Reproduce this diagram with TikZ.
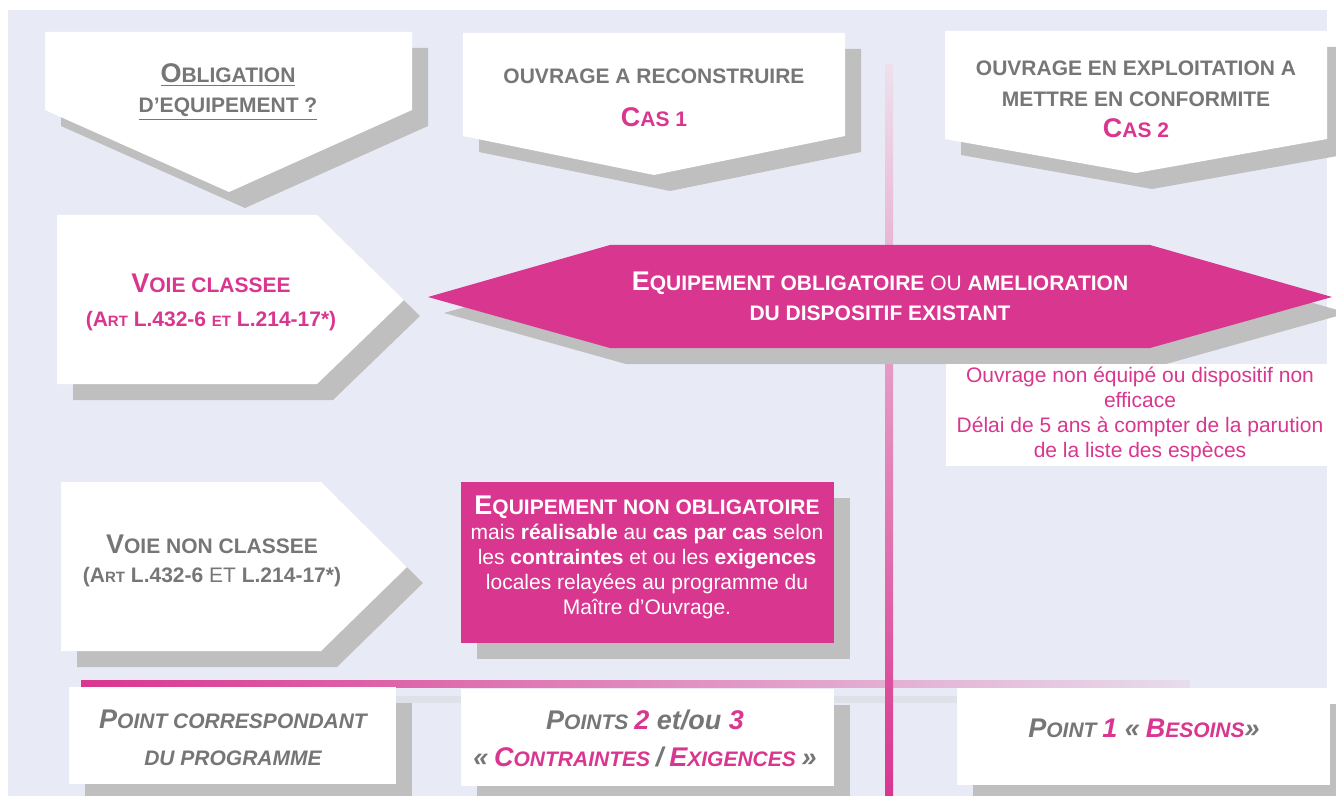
\documentclass[tikz,border=0pt]{standalone}
\usepackage{fontspec}
\setmainfont{Liberation Sans}

\definecolor{fond}{HTML}{E8EBF5}
\definecolor{ombre}{HTML}{BFBFBF}
\definecolor{ombreligne}{HTML}{DFE1E8}
\definecolor{rose}{HTML}{D9368F}
\definecolor{rosepale}{HTML}{EEE0EC}
\definecolor{gristexte}{HTML}{767676}

% grande et petite capitale
\newcommand\grande[1]{{\fontsize{13.5}{15}\selectfont #1}}
\newcommand\petite[1]{{\fontsize{7.5}{15}\selectfont #1}}

\begin{document}
\begin{tikzpicture}[x=0.5pt,y=-0.5pt,
    titre/.style={align=center, text=gristexte, font=\fontsize{10.5}{15.5}\selectfont\bfseries},
    note/.style={align=center, font=\fontsize{10.5}{12.5}\selectfont},
    bas/.style={align=center, text=gristexte, font=\fontsize{10.5}{18.5}\selectfont\bfseries\itshape}]

  \useasboundingbox (0,0) rectangle (1336,796);
  \clip (0,0) rectangle (1336,796);
  \fill[fond] (8,10) rectangle (1327,796);

  % lignes de separation
  \fill[ombreligne] (97,696) rectangle (1206,703);
  \shade[left color=rose, middle color=rose!45!fond, right color=fond!92!rose] (81,680) rectangle (1190,687);
  \shade[top color=rosepale, bottom color=rose] (885,65) rectangle (893,796);

  % ombres puis formes
  \foreach \d/\blanc/\plein in {16/ombre/ombre, 0/white/rose} {
    \begin{scope}[shift={(\d,\d)}]
      \fill[\blanc] (45,32) -- (412,32) -- (412,110) -- (229,192) -- (45,110) -- cycle;
      \fill[\blanc] (463,33) -- (845,33) -- (845,136) -- (654,175) -- (463,136) -- cycle;
      \fill[\blanc] (945,31) -- (1327,31) -- (1327,139) -- (1136,173) -- (945,139) -- cycle;
      \fill[\blanc] (57,215) -- (317,215) -- (404,300) -- (317,384) -- (57,384) -- cycle;
      \fill[\plein] (428,297) -- (610,245) -- (1150,245) -- (1332,297) -- (1150,348) -- (610,348) -- cycle;
      \fill[\blanc] (61,482) -- (321,482) -- (407,567) -- (321,651) -- (61,651) -- cycle;
      \fill[\plein] (461,482) rectangle (834,643);
      \fill[\blanc] (69,687) rectangle (396,784);
      \fill[\blanc] (461,689) rectangle (834,786);
      \fill[\blanc] (957,688) rectangle (1330,785);
    \end{scope}
  }
  \fill[white] (946,364) rectangle (1327,466);

  % textes du haut
  \node[titre, font=\fontsize{10.5}{15}\selectfont\bfseries] (oblig) at (228,92)
    {\underline{\grande{O}BLIGATION}\\\underline{D’EQUIPEMENT ?}};
  \node[titre] (reconst) at (654,76) {OUVRAGE A RECONSTRUIRE};
  \node[titre, text=rose] (cas1) at (654,117) {\grande{C}AS 1};
  \node[titre] (exploit) at (1136,84) {OUVRAGE EN EXPLOITATION A\\METTRE EN CONFORMITE};
  \node[titre, text=rose] (cas2) at (1136,128) {\grande{C}AS 2};

  % voies
  \node[titre, text=rose, font=\fontsize{10.5}{17}\selectfont\bfseries] (classee) at (211,302)
    {\grande{V}OIE CLASSEE\\(A\petite{RT} L.432-6 \petite{ET} L.214-17*)};
  \node[titre, text=white, font=\fontsize{10.5}{15}\selectfont\bfseries] (obligatoire) at (880,296)
    {\grande{E}QUIPEMENT OBLIGATOIRE {\mdseries OU} AMELIORATION\\DU DISPOSITIF EXISTANT};
  \node[note, text=rose] (delai) at (1140,414)
    {Ouvrage non équipé ou dispositif non\\efficace\\Délai de 5 ans à compter de la parution\\de la liste des espèces};
  \node[titre, font=\fontsize{10.5}{14.5}\selectfont\bfseries] (nonclassee) at (212,561)
    {\grande{V}OIE NON CLASSEE\\(A\petite{RT} L.432-6 {\mdseries ET} L.214-17*)};
  \node[note, text=white] (nonoblig) at (647,557)
    {{\bfseries\grande{E}QUIPEMENT NON OBLIGATOIRE}\\
     mais \textbf{réalisable} au \textbf{cas par cas} selon\\
     les \textbf{contraintes} et ou les \textbf{exigences}\\
     locales relayées au programme du\\Maître d’Ouvrage.};

  % points du programme
  \node[bas] (pointprog) at (233,738) {\grande{P}OINT CORRESPONDANT\\DU PROGRAMME};
  \node[bas] (points23) at (645,738)
    {\grande{P}OINTS \grande{\textcolor{rose}{2} et/ou \textcolor{rose}{3}}\\
     \grande{«} \textcolor{rose}{\grande{C}ONTRAINTES} \grande{/} \textcolor{rose}{\grande{E}XIGENCES} \grande{»}};
  \node[bas] (point1) at (1144,728)
    {\grande{P}OINT \grande{\textcolor{rose}{1} «} \textcolor{rose}{\grande{B}ESOINS}\grande{»}};

\end{tikzpicture}
\end{document}
